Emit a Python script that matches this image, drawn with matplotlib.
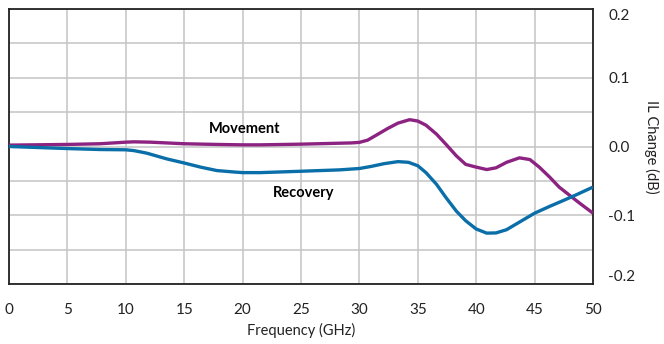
import numpy as np
import matplotlib.pyplot as plt

plt.rcParams['font.family'] = ['Lato', 'DejaVu Sans']

# ---- data ----
freq_mov = [0, 5, 7.8, 10, 10.7, 12.1, 15, 17.8, 20, 21.5, 25, 28.3, 29.3, 30,
            30.7, 31.6, 32.4, 33.3, 34.3, 35, 35.7, 36.6, 37.4, 38.3, 39.1,
            40, 40.9, 41.7, 42.6, 43.7, 44.6, 45.4, 46.3, 47.1, 48, 48.9, 50]
movement = [0.002, 0.003, 0.004, 0.0063, 0.0068, 0.0063, 0.004, 0.003, 0.0024,
            0.0024, 0.0034, 0.0048, 0.0052, 0.006, 0.0092, 0.018, 0.026, 0.034,
            0.039, 0.037, 0.031, 0.018, 0.0034, -0.0136, -0.026, -0.030,
            -0.0335, -0.031, -0.023, -0.0165, -0.019, -0.030, -0.0447, -0.059,
            -0.071, -0.083, -0.097]

freq_rec = [0, 5, 7.8, 10, 10.7, 11.8, 13.5, 15, 16.4, 17.8, 19.2, 20, 21.5,
            25, 28.3, 30, 31, 32.1, 33.3, 34.2, 35, 35.7, 36.6, 37.4, 38.3,
            39.1, 40, 40.9, 41.7, 42.6, 43.7, 45, 46.3, 47.4, 48.6, 50]
recovery = [0.0, -0.003, -0.0044, -0.0048, -0.006, -0.0097, -0.018, -0.024,
            -0.030, -0.035, -0.037, -0.038, -0.038, -0.036, -0.034, -0.032,
            -0.029, -0.025, -0.022, -0.023, -0.028, -0.038, -0.055, -0.074,
            -0.094, -0.108, -0.120, -0.126, -0.1257, -0.121, -0.110, -0.097,
            -0.087, -0.079, -0.070, -0.059]

x_ticks = [0, 5, 10, 15, 20, 25, 30, 35, 40, 45, 50]
y_ticks = [0.2, 0.1, 0.0, -0.1, -0.2]
y_tick_labels = ['0.2', '0.1', '0.0', '-0.1', '-0.2']

PURPLE = '#8c2381'
BLUE = '#0a6ea8'

fig = plt.figure(figsize=(6.64, 3.44), dpi=100)
ax = fig.add_axes([9 / 664, 1 - 284 / 344, 584 / 664, 275 / 344])

ax.plot(freq_mov, movement, color=PURPLE, lw=2.4, solid_capstyle='butt',
        solid_joinstyle='round', zorder=3)
ax.plot(freq_rec, recovery, color=BLUE, lw=2.4, solid_capstyle='butt',
        solid_joinstyle='round', zorder=3)

ax.text(20.2, 0.025, 'Movement', fontsize=10.5, fontweight='bold',
        ha='center', va='center')
ax.text(25.2, -0.068, 'Recovery', fontsize=10.5, fontweight='bold',
        ha='center', va='center')

ax.set_xlim(0, 50)
ax.set_ylim(-0.2, 0.2)
ax.set_xticks(x_ticks)
ax.set_yticks(np.arange(-0.2, 0.2001, 0.05), minor=True)
ax.set_yticks(y_ticks)
ax.set_yticklabels(y_tick_labels)
ax.yaxis.tick_right()
ax.yaxis.set_label_position('right')

# outer labels sit inside the frame, as in the original
for lab in ax.get_yticklabels():
    if lab.get_text() == '0.2':
        lab.set_va('top')
    elif lab.get_text() == '-0.2':
        lab.set_va('bottom')

ax.tick_params(axis='both', which='both', length=0, labelsize=11,
               colors='#222222')
ax.tick_params(axis='x', pad=14)
ax.tick_params(axis='y', pad=11)

ax.grid(True, which='both', color='#c4c4c4', lw=1.1, zorder=0)
ax.set_axisbelow(True)
for s in ax.spines.values():
    s.set_color('#222222')
    s.set_linewidth(1.3)

ax.set_xlabel('Frequency (GHz)', fontsize=10.5, labelpad=4, color='#222222')
ax.set_ylabel('IL Change (dB)', fontsize=10.5, rotation=270, labelpad=17,
              color='#222222')

fig.savefig('out.png', dpi=100)
